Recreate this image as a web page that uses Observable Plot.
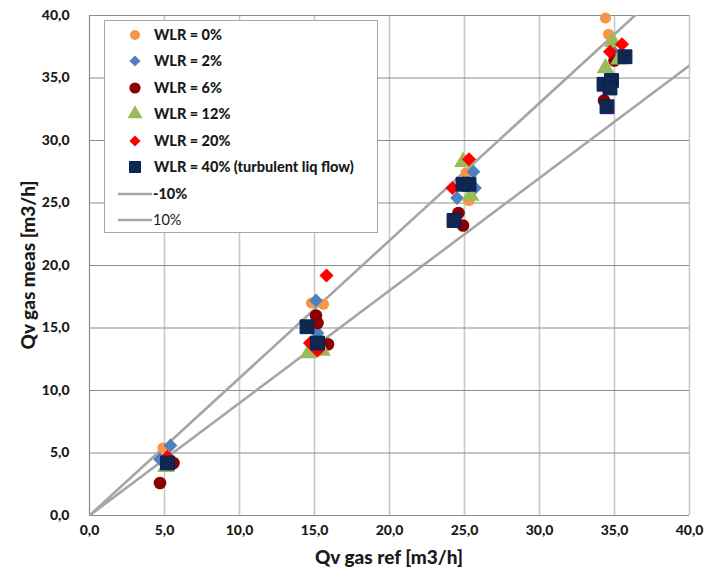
<!DOCTYPE html>
<html>
<head>
<meta charset="utf-8">
<script src="https://cdn.jsdelivr.net/npm/d3@7"></script>
<script src="https://cdn.jsdelivr.net/npm/@observablehq/plot@0.6"></script>
<style>
  body { margin: 0; background: #fff; }
  #chart svg { display: block; }
</style>
</head>
<body>
<div id="chart"></div>
<script>
const ticks = [0, 5, 10, 15, 20, 25, 30, 35, 40];
const seriesNames = ["WLR = 0%", "WLR = 2%", "WLR = 6%", "WLR = 12%", "WLR = 20%", "WLR = 40% (turbulent liq flow)"];
const lineNames = ["-10%", "10%"];
const lineFactors = [1.1, 0.9];

const wlr0 = [[34.4,39.8],[34.6,38.5],[25.1,27.4],[25.3,25.2],[14.8,17.0],[15.6,16.9],[4.9,5.4]];
const wlr2 = [[35.0,37.0],[25.6,27.5],[25.7,26.2],[24.5,25.4],[15.1,17.2],[15.2,14.6],[5.4,5.6],[4.7,4.5]];
const wlr6 = [[35.0,36.4],[34.3,33.2],[24.6,24.2],[24.9,23.2],[15.1,16.0],[15.2,15.4],[15.9,13.7],[5.6,4.2],[4.7,2.6]];
const wlr12 = [[34.9,37.9],[35.3,36.5],[34.4,35.8],[24.9,28.3],[25.4,25.6],[14.6,13.0],[15.5,13.2],[5.1,3.9]];
const wlr20 = [[35.5,37.7],[34.7,37.1],[25.3,28.5],[24.2,26.2],[15.8,19.2],[14.7,13.8],[15.2,13.2],[5.2,4.7]];
const wlr40 = [[35.7,36.7],[34.3,34.5],[34.8,34.8],[34.7,34.2],[34.5,32.7],[24.9,26.5],[25.3,26.5],[24.3,23.6],[14.5,15.1],[15.2,13.8],[5.2,4.2]];

const allSeries = [wlr0, wlr2, wlr6, wlr12, wlr20, wlr40];
const styles = [
  {symbol: "circle", fill: "#F79646", stroke: "none", r: 5.6, lr: 5.0},
  {symbol: "diamond2", fill: "#4F81BD", stroke: "none", r: 6.2, lr: 5.0},
  {symbol: "circle", fill: "#8B0000", stroke: "none", r: 6.3, lr: 5.6},
  {symbol: "triangle", fill: "#9BBB59", stroke: "none", r: 6.6, lr: 5.6},
  {symbol: "diamond2", fill: "#FF0000", stroke: "none", r: 6.4, lr: 5.0},
  {symbol: "square", fill: "#10284F", stroke: "#002060", r: 7.8, lr: 6.2}
];

const fmt = d => d.toFixed(1).replace(".", ",");
const FONT = "Lato, 'Open Sans', sans-serif";

const lineData = lineFactors.map(f => [[0, 0], [40, 40 * f]]);

const marks = [
  Plot.ruleX(ticks.slice(1), {stroke: "#c8c8c8", strokeWidth: 1.6}),
  Plot.ruleY(ticks.slice(1), {stroke: "#8c8c8c", strokeWidth: 1.2}),
  Plot.ruleX([0], {stroke: "#8c8c8c", strokeWidth: 1.2}),
  Plot.ruleY([0], {stroke: "#8c8c8c", strokeWidth: 1.2}),
  ...lineData.map(d => Plot.line(d, {x: "0", y: "1", stroke: "#a6a6a6", strokeWidth: 2.6, clip: true})),
  ...allSeries.map((s, i) => Plot.dot(s, {x: "0", y: "1", symbol: () => styles[i].symbol, fill: styles[i].fill, stroke: styles[i].stroke, strokeWidth: 1, r: styles[i].r}))
];

const plot = Plot.plot({
  width: 707,
  height: 580,
  marginLeft: 89,
  marginRight: 18,
  marginTop: 15,
  marginBottom: 65,
  style: {fontFamily: FONT, fontSize: "14px", fontWeight: "900", color: "#1a1a1a", background: "#fff"},
  x: {domain: [0, 40], ticks: ticks, tickFormat: fmt, tickSize: 0, tickPadding: 10, label: null},
  y: {domain: [0, 40], ticks: ticks, tickFormat: fmt, tickSize: 0, tickPadding: 20, label: null},
  symbol: {type: "identity"},
  marks
});

document.getElementById("chart").appendChild(plot);

const svg = d3.select(plot);
// axis titles
svg.append("text")
  .attr("x", 389).attr("y", 564)
  .attr("text-anchor", "middle")
  .attr("font-family", FONT).attr("font-size", 19).attr("font-weight", "900").attr("fill", "#1a1a1a")
  .text("Qv gas ref [m3/h]");
svg.append("text")
  .attr("transform", "translate(35,265) rotate(-90)")
  .attr("text-anchor", "middle")
  .attr("font-family", FONT).attr("font-size", 19).attr("font-weight", "900").attr("fill", "#1a1a1a")
  .text("Qv gas meas [m3/h]");

// legend
const lg = svg.append("g");
lg.append("rect").attr("x", 104.5).attr("y", 20.5).attr("width", 273).attr("height", 212)
  .attr("fill", "#fff").attr("stroke", "#a6a6a6").attr("stroke-width", 1);
const rowY = [35, 61, 88, 114, 141, 167, 194, 220];
seriesNames.forEach((name, i) => {
  const st = styles[i];
  const sym = {circle: d3.symbolCircle, diamond2: d3.symbolDiamond2, triangle: d3.symbolTriangle, square: d3.symbolSquare}[st.symbol];
  lg.append("path")
    .attr("transform", `translate(135,${rowY[i]})`)
    .attr("d", d3.symbol(sym, Math.PI * st.lr * st.lr)())
    .attr("fill", st.fill).attr("stroke", st.stroke).attr("stroke-width", 1);
  lg.append("text").attr("x", 154).attr("y", rowY[i]).attr("dy", "0.35em")
    .attr("text-anchor", "start")
    .attr("font-family", FONT).attr("font-size", 14.5).attr("font-weight", "900").attr("fill", "#1a1a1a")
    .text(name);
});
lineNames.forEach((name, j) => {
  const y = rowY[6 + j];
  lg.append("line").attr("x1", 118).attr("x2", 152).attr("y1", y).attr("y2", y)
    .attr("stroke", "#a6a6a6").attr("stroke-width", 2.6);
  lg.append("text").attr("x", 153).attr("y", y).attr("dy", "0.35em")
    .attr("text-anchor", "start")
    .attr("font-family", FONT).attr("font-size", 14.5).attr("font-weight", j === 0 ? "900" : "normal").attr("fill", "#1a1a1a")
    .text(name);
});
</script>
</body>
</html>
